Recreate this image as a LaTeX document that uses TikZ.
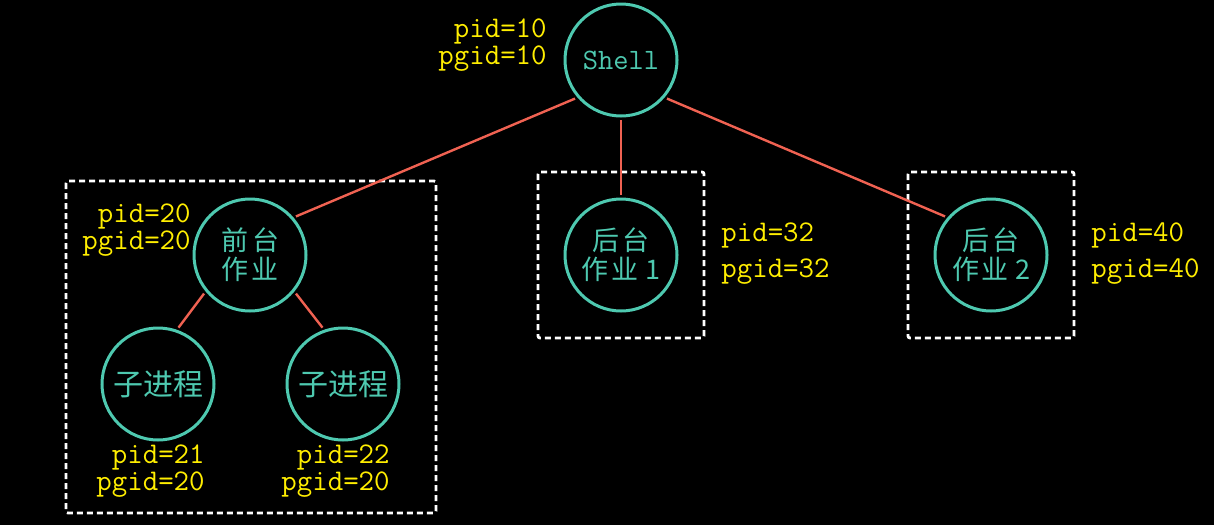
\documentclass[tikz,border=0pt]{standalone}
\usepackage{fontspec}
\newfontfamily\cjk{Noto Sans CJK SC}
\definecolor{procteal}{RGB}{78,201,176}
\definecolor{linkred}{RGB}{240,98,82}
\definecolor{idyellow}{RGB}{255,238,0}
\tikzset{
  proc/.style={circle, draw=procteal, line width=1.5pt, minimum size=56pt, inner sep=0pt, outer sep=2pt, text=procteal, align=center},
  job/.style={proc, font=\cjk\fontsize{13.5}{14.5}\selectfont},
  link/.style={draw=linkred, line width=1.2pt},
  group/.style={draw=white, line width=1.4pt, dash pattern=on 3pt off 2pt, rounded corners=1pt},
  ids/.style={text=idyellow, inner sep=0pt, font=\ttfamily\fontsize{15}{13.5}\selectfont}
}
\begin{document}
\begin{tikzpicture}[x=0.5pt, y=-0.5pt]
 \fill [black] (0, 0) rectangle (1214, 525);
 \useasboundingbox (0, 0) rectangle (1214, 525);
 \draw [group] (66, 181) rectangle (436, 513);
 \draw [group] (538, 172) rectangle (704, 338);
 \draw [group] (908, 172) rectangle (1074, 338);
 \node [proc, font=\ttfamily\fontsize{14.8}{16}\selectfont] (shell) at (621, 60) {Shell};
 \node [job] (fg) at (250, 255) {前\kern2pt 台\\作\kern1.5pt 业};
 \node [job] (bg1) at (621, 255) {后\kern1.5pt 台\\作\kern1.5pt 业 1};
 \node [job] (bg2) at (991, 255) {后\kern1.5pt 台\\作\kern1.5pt 业 2};
 \node [proc, font=\cjk\fontsize{15}{16}\selectfont] (child1) at (158, 384) {子进程};
 \node [proc, font=\cjk\fontsize{15}{16}\selectfont] (child2) at (343, 384) {子进程};
 \draw [link] (shell.-140) -- (fg.40);
 \draw [link] (shell.south) -- (bg1.north);
 \draw [link] (shell.-40) -- (bg2.140);
 \draw [link] (fg.-140) -- (child1.70);
 \draw [link] (fg.-40) -- (child2.110);
 \node [ids, anchor=east, align=right] (shellid) at (547, 45) {pid=10\\pgid=10};
 \node [ids, anchor=east, align=right] (fgid) at (191, 230) {pid=20\\pgid=20};
 \node [ids, anchor=west, align=left, font=\ttfamily\fontsize{15}{18}\selectfont] (bg1id) at (721, 254) {pid=32\\pgid=32};
 \node [ids, anchor=west, align=left, font=\ttfamily\fontsize{15}{18}\selectfont] (bg2id) at (1091, 254) {pid=40\\pgid=40};
 \node [ids, anchor=east, align=right] (child1id) at (205, 471) {pid=21\\pgid=20};
 \node [ids, anchor=east, align=right] (child2id) at (390, 471) {pid=22\\pgid=20};
\end{tikzpicture}
\end{document}
